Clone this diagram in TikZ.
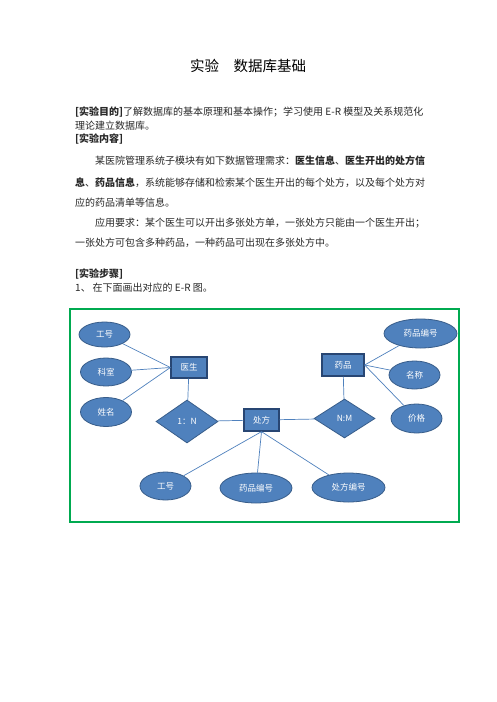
\documentclass[tikz,border=0pt]{standalone}
\usepackage{fontspec}
\setmainfont{Noto Sans CJK SC}
\usetikzlibrary{shapes.geometric}
\definecolor{erfill}{RGB}{79,129,189}
\definecolor{erline}{RGB}{56,93,138}
\definecolor{entline}{RGB}{40,70,115}
\definecolor{framegreen}{RGB}{0,170,80}
\definecolor{bodytext}{RGB}{40,40,40}
\tikzset{
  attr/.style={ellipse, draw=erline, fill=erfill, line width=0.8pt, inner sep=0pt, text=white, font=\fontsize{8.5}{10}\selectfont},
  ent/.style={rectangle, draw=entline, fill=erfill, line width=1.3pt, inner sep=0pt, text=white, font=\fontsize{8.5}{10}\selectfont},
  rel/.style={diamond, draw=erline, fill=erfill, line width=0.8pt, inner sep=0pt, text=white, font=\fontsize{8.5}{10}\selectfont},
  link/.style={draw=erfill, line width=0.7pt},
  line/.style={anchor=west, inner sep=0pt, text=bodytext, font=\fontsize{10}{12}\selectfont},
}
\begin{document}
\begin{tikzpicture}[x=1pt, y=-1pt]
\useasboundingbox[fill=white] (0,0) rectangle (496,702);
% title
\node[font=\fontsize{14.5}{16}\selectfont] (title) at (248,66) {实验\hspace{1em}数据库基础};
% body text
\node[line] (l1) at (75,112) {\textbf{[实验目的]}了解数据库的基本原理和基本操作；学习使用 E-R 模型及关系规范化};
\node[line] (l2) at (75,126) {理论建立数据库。};
\node[line] (l3) at (75,139) {\textbf{[实验内容]}};
\node[line] (l4) at (95,160.7) {某医院管理系统子模块有如下数据管理需求：\textbf{医生信息}、\textbf{医生开出的处方信}};
\node[line] (l5) at (75,182.7) {\textbf{息}、\textbf{药品信息}，系统能够存储和检索某个医生开出的每个处方，以及每个处方对};
\node[line] (l6) at (75,202.7) {应的药品清单等信息。};
\node[line] (l7) at (95,223) {应用要求：某个医生可以开出多张处方单，一张处方只能由一个医生开出；};
\node[line] (l8) at (75,242.7) {一张处方可包含多种药品，一种药品可出现在多张处方中。};
\node[line] (l9) at (75,274.3) {\textbf{[实验步骤]}};
\node[line] (l10) at (75,287.3) {1、\hspace{0.2em}在下面画出对应的 E-R 图。};
% frame
\draw[framegreen, line width=2pt] (70,309) rectangle (459,522);
% entities
\node[ent, minimum width=36pt, minimum height=21pt] (ys) at (189,367.5) {医生};
\node[ent, minimum width=35pt, minimum height=22pt] (cf) at (261.5,420) {处方};
\node[ent, minimum width=42pt, minimum height=22pt] (yp) at (343,365) {药品};
% relations
\node[rel, minimum width=62pt, minimum height=43pt] (r1) at (187,421.5) {1：N};
\node[rel, minimum width=61pt, minimum height=39pt] (r2) at (344.5,418.5) {N:M};
% attributes
\node[attr, minimum width=51pt, minimum height=25pt] (gh1) at (104.5,334.5) {工号};
\node[attr, minimum width=51pt, minimum height=28pt] (ks) at (106,372) {科室};
\node[attr, minimum width=51pt, minimum height=29pt] (xm) at (106,412) {姓名};
\node[attr, minimum width=73pt, minimum height=29pt] (bh1) at (420.5,333.5) {药品编号};
\node[attr, minimum width=51pt, minimum height=28pt] (mc) at (414.5,375) {名称};
\node[attr, minimum width=51pt, minimum height=29pt] (jg) at (416.5,418.5) {价格};
\node[attr, minimum width=51pt, minimum height=28pt] (gh2) at (165.5,486) {工号};
\node[attr, minimum width=72pt, minimum height=30pt] (bh2) at (256,488) {药品编号};
\node[attr, minimum width=73pt, minimum height=29pt] (cfbh) at (348.5,487.5) {处方编号};
% connectors
\draw[link] (gh1) -- (ys.west);
\draw[link] (ks) -- (ys.west);
\draw[link] (xm) -- (ys.west);
\draw[link] (ys) -- (r1);
\draw[link] (r1) -- (cf);
\draw[link] (cf) -- (r2);
\draw[link] (r2) -- (yp);
\draw[link] (yp.east) -- (bh1);
\draw[link] (yp.east) -- (mc);
\draw[link] (yp.east) -- (jg);
\draw[link] (cf.south) -- (gh2);
\draw[link] (cf.south) -- (bh2);
\draw[link] (cf.south) -- (cfbh);
\end{tikzpicture}
\end{document}
